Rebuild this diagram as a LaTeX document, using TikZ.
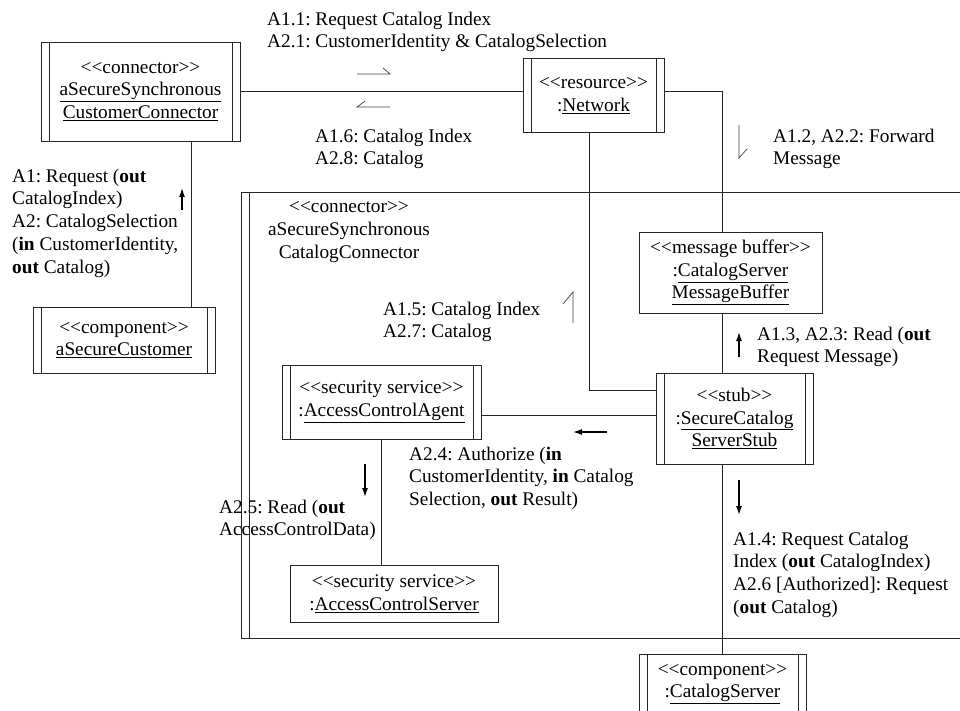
\documentclass[tikz,border=0pt]{standalone}
\usepackage{fontspec}
\setmainfont{Liberation Serif}
\usetikzlibrary{arrows.meta}
\frenchspacing

\newcommand{\stereo}[1]{{<}{<}#1{>}{>}}

\begin{document}
\begin{tikzpicture}[x=1pt, y=-1pt,
  every node/.style={font=\fontsize{19.3}{22.7}\selectfont},
  compbox/.style={
    draw=black!85, line width=0.7pt, inner sep=0pt, align=center,
    path picture={
      \draw[black!85, line width=0.7pt]
        ([xshift=8pt]path picture bounding box.north west) -- ([xshift=8pt]path picture bounding box.south west);
      \draw[black!85, line width=0.7pt]
        ([xshift=-8pt]path picture bounding box.north east) -- ([xshift=-8pt]path picture bounding box.south east);
    }
  },
  plainbox/.style={draw=black!85, line width=0.7pt, inner sep=0pt, align=center},
  msg/.style={anchor=north west, inner sep=0pt, align=left},
  conn/.style={black!85, line width=0.7pt},
  flow/.style={-{Latex[length=9pt,width=6pt]}, line width=1.3pt},
  half/.style={black!75, line width=0.7pt},
]
\clip (0,0) rectangle (960,711);

%% enclosing connector (open to the right)
\node[compbox, minimum width=759pt, minimum height=446pt] (catconn) at (620.5,415) {};
\node[align=center, anchor=north, inner sep=0pt] (ccname) at (349,201.7)
  {\stereo{connector}\\aSecureSynchronous\\CatalogConnector};

%% objects
\node[compbox, minimum width=199pt, minimum height=99pt] (csc) at (140.5,91.5)
  {\stereo{connector}\\\underline{aSecureSynchronous}\\\underline{CustomerConnector}};
\node[compbox, minimum width=141pt, minimum height=74pt] (net) at (593.5,95.5)
  {\stereo{resource}\\:\underline{Network}};
\node[compbox, minimum width=182pt, minimum height=66pt] (cust) at (124,340)
  {\stereo{component}\\\underline{aSecureCustomer}};
\node[plainbox, minimum width=183pt, minimum height=81pt] (buf) at (730.5,272.5)
  {\stereo{message buffer}\\:\underline{CatalogServer}\\\underline{MessageBuffer}};
\node[compbox, minimum width=157pt, minimum height=91pt] (stub) at (734.5,418.5)
  {\stereo{stub}\\:\underline{SecureCatalog}\\\underline{ServerStub}};
\node[compbox, minimum width=199pt, minimum height=74pt] (aca) at (381.5,402)
  {\stereo{security service}\\:\underline{AccessControlAgent}};
\node[plainbox, minimum width=208pt, minimum height=57pt] (acs) at (394,593.5)
  {\stereo{security service}\\:\underline{AccessControlServer}};
\node[compbox, minimum width=167pt, minimum height=60pt] (cs) at (722.5,684)
  {\stereo{component}\\:\underline{CatalogServer}};

%% links
\draw[conn] (csc.east) -- (csc.east -| net.west);
\draw[conn] (csc.east -| net.east) -| (buf.north -| cs.north);
\draw[conn] (buf.south -| cs.north) -- (stub.north -| cs.north);
\draw[conn] (stub.south -| cs.north) -- (cs.north);
\draw[conn] ([xshift=-4.5pt]net.south) |- ([yshift=28.5pt]stub.west);
\draw[conn] ([yshift=-13pt]aca.east) -- ([yshift=-13pt]aca.east -| stub.west);
\draw[conn] (aca.south) -- (aca.south |- acs.north);
\draw[conn] ([xshift=50.5pt]csc.south) -- ([xshift=50.5pt]csc.south |- cust.north);

%% message labels
\node[msg] (m11) at (267,11.7) {A1.1: Request Catalog Index\\A2.1: CustomerIdentity \& CatalogSelection};
\node[msg] (m16) at (315,128.7) {A1.6: Catalog Index\\A2.8: Catalog};
\node[msg] (m12) at (773,128.7) {A1.2, A2.2: Forward\\Message};
\node[msg] (m1)  at (12,168.7) {A1: Request (\textbf{out}\\CatalogIndex)\\A2: CatalogSelection\\(\textbf{in} CustomerIdentity,\\\textbf{out} Catalog)};
\node[msg] (m15) at (383,301.7) {A1.5: Catalog Index\\A2.7: Catalog};
\node[msg] (m13) at (757,326.7) {A1.3, A2.3: Read (\textbf{out}\\Request Message)};
\node[msg] (m24) at (409,446.7) {A2.4: Authorize (\textbf{in}\\CustomerIdentity, \textbf{in} Catalog\\Selection, \textbf{out} Result)};
\node[msg] (m25) at (219,499.7) {A2.5: Read (\textbf{out}\\AccessControlData)};
\node[msg] (m14) at (733,531.7) {A1.4: Request Catalog\\Index (\textbf{out} CatalogIndex)\\A2.6 [Authorized]: Request\\(\textbf{out} Catalog)};

%% synchronous message arrows
\coordinate (f1) at (182,210);
\coordinate (f13) at (739,357);
\coordinate (f24) at (607,432);
\coordinate (f25) at (365,464);
\coordinate (f14) at (739,480);
\draw[flow] (f1) -- ++(0,-22);
\draw[flow] (f13) -- ++(0,-25);
\draw[flow] (f24) -- ++(-34,0);
\draw[flow] (f25) -- ++(0,33);
\draw[flow] (f14) -- ++(0,35);

%% asynchronous message arrows (half heads)
\coordinate (h11) at (357,74);
\coordinate (h16) at (390,107);
\coordinate (h12) at (739,125);
\coordinate (h15) at (573,323);
\draw[half] (h11) -- ++(33,0) -- ++(-7,-6);
\draw[half] (h16) -- ++(-33,0) -- ++(8,-6);
\draw[half] (h12) -- ++(0,33) -- ++(8,-9);
\draw[half] (h15) -- ++(0,-31) -- ++(-10,12);

\end{tikzpicture}
\end{document}
